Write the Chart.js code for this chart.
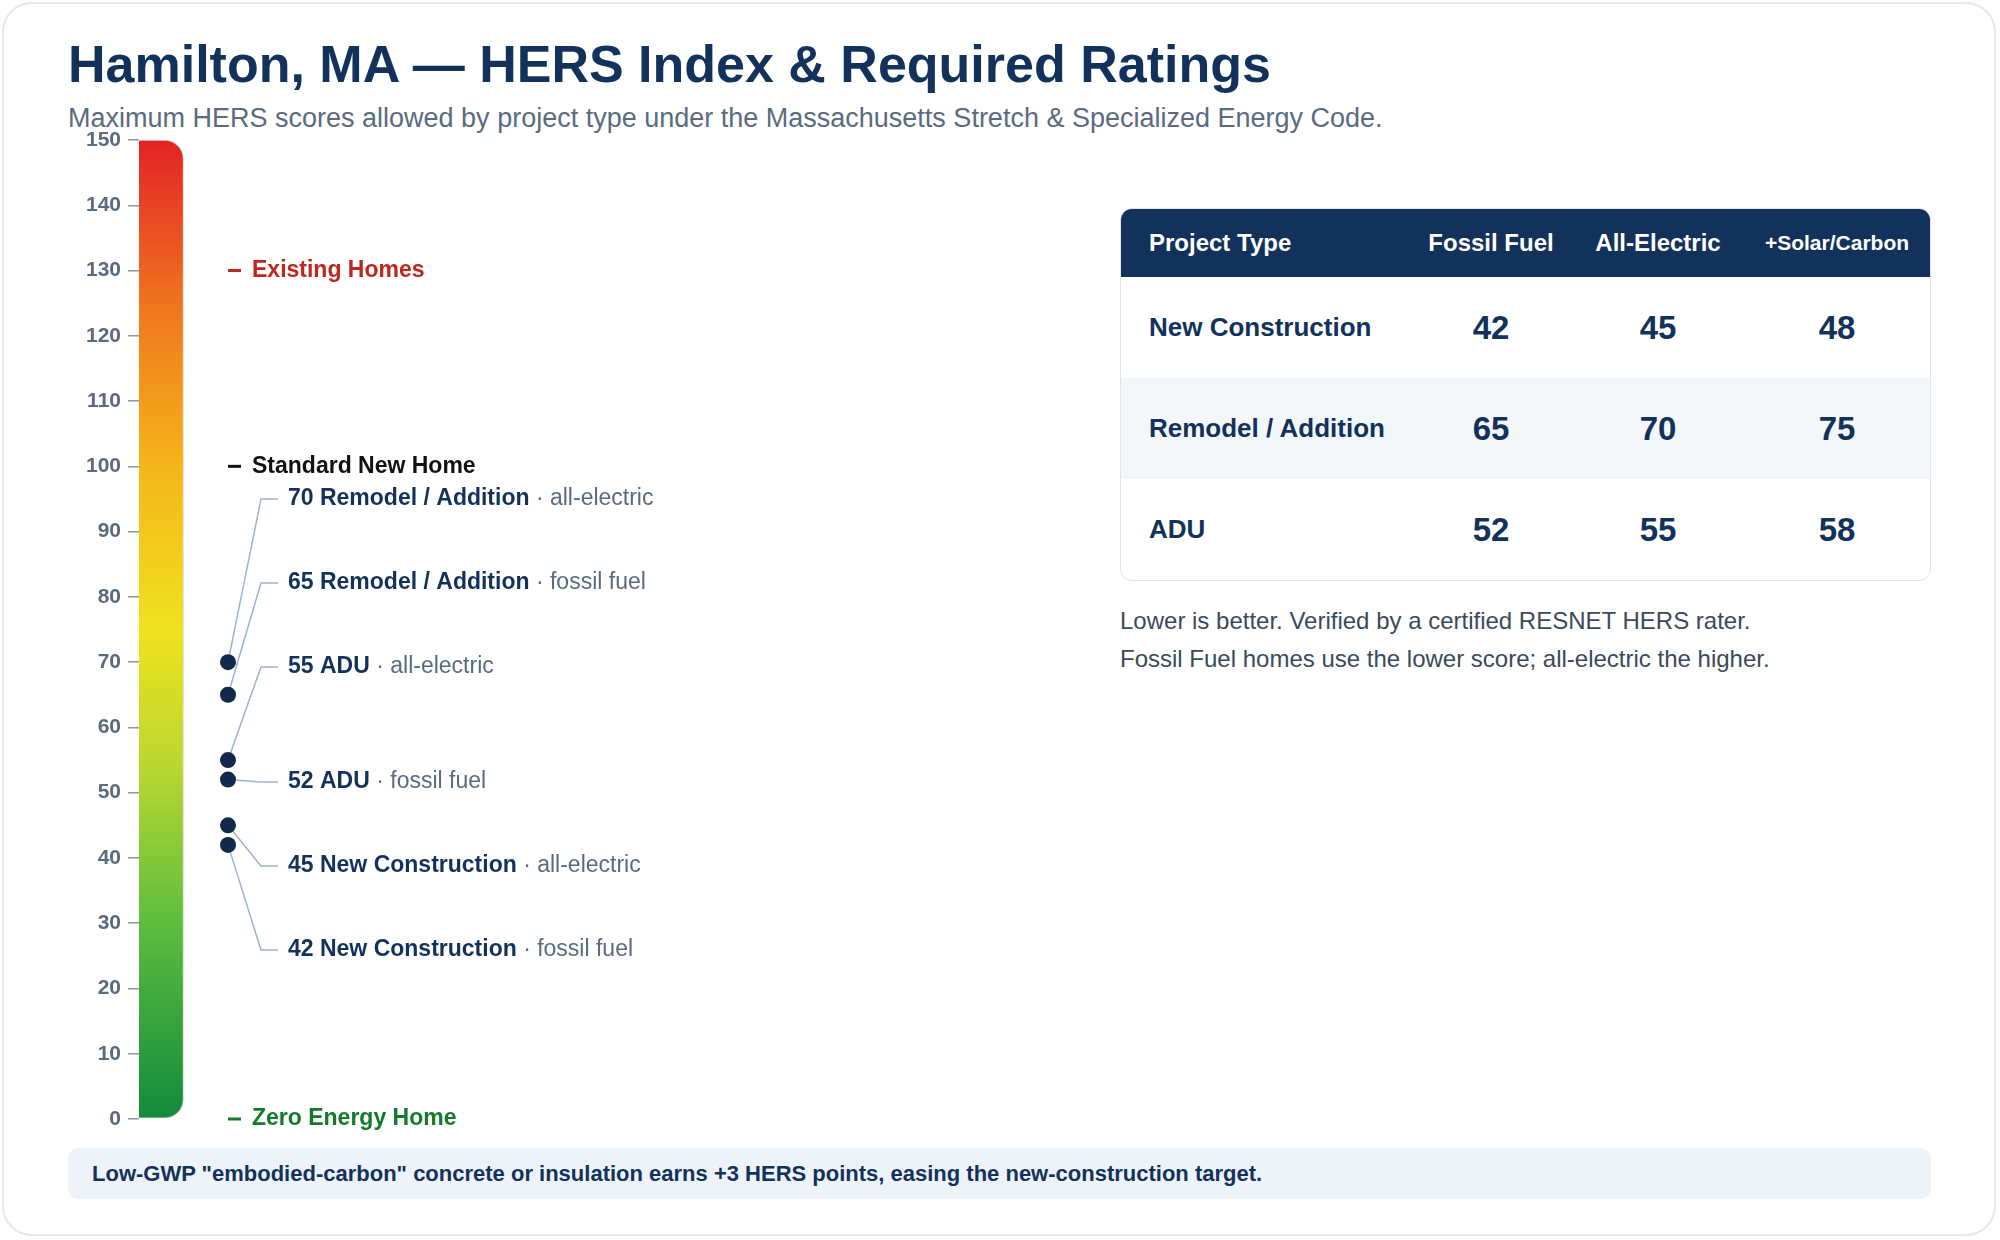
<!DOCTYPE html>
<html>
<head>
<meta charset="utf-8">
<script src="https://cdn.jsdelivr.net/npm/chart.js@4.4.1/dist/chart.umd.min.js"></script>
<style>
  html, body { margin: 0; padding: 0; background: #fff; }
  body { width: 2000px; height: 1240px; position: relative; overflow: hidden; font-family: "Liberation Sans", Arial, sans-serif; }
  .card { position: absolute; left: 2px; top: 2px; width: 1994px; height: 1234px; border: 2px solid #e3e8ef; border-radius: 30px; box-sizing: border-box; }
  h1 { position: absolute; left: 68px; top: 34px; margin: 0; font-size: 52px; font-weight: bold; color: #13325b; }
  .sub { position: absolute; left: 68px; top: 103px; font-size: 27px; color: #5a6b80; }
  #wrap { position: absolute; left: 0; top: 0; width: 1100px; height: 1240px; }
  table { position: absolute; left: 1120px; top: 208px; width: 811px; border-collapse: separate; border-spacing: 0; border: 1.5px solid #dfe5ec; border-radius: 12px; overflow: hidden; font-family: "Liberation Sans", Arial, sans-serif; }
  th { background: #13325b; color: #fff; height: 66px; font-size: 24px; font-weight: bold; text-align: center; }
  th:first-child { text-align: left; padding-left: 28px; }
  th.small { font-size: 21px; }
  td { height: 99px; text-align: center; font-size: 33px; font-weight: bold; color: #13325b; }
  td:first-child { text-align: left; padding-left: 28px; font-size: 26px; }
  tr.alt td { background: #f4f7fa; }
  .notes { position: absolute; left: 1120px; top: 602px; font-size: 24px; line-height: 38px; color: #3a4a5c; }
  .banner { position: absolute; left: 68px; top: 1148px; width: 1863px; height: 51px; background: #eef3fa; border-radius: 10px; font-weight: bold; font-size: 22px; color: #13325b; line-height: 51px; box-sizing: border-box; padding-left: 24px; }
</style>
</head>
<body>
<div class="card"></div>
<h1>Hamilton, MA — HERS Index &amp; Required Ratings</h1>
<div class="sub">Maximum HERS scores allowed by project type under the Massachusetts Stretch &amp; Specialized Energy Code.</div>
<div id="wrap"><canvas id="hers"></canvas></div>
<table id="tbl"></table>
<div class="notes">Lower is better. Verified by a certified RESNET HERS rater.<br>Fossil Fuel homes use the lower score; all-electric the higher.</div>
<div class="banner">Low-GWP "embodied-carbon" concrete or insulation earns +3 HERS points, easing the new-construction target.</div>
<script>
// scale
var scaleMin = 0, scaleMax = 150, scaleStep = 10;

// reference levels on the scale
var refValues = [130, 100, 0];
var refLabels = ["Existing Homes", "Standard New Home", "Zero Energy Home"];
var refColors = ["#c0251f", "#111111", "#137a2a"];

// table
var projectTypes = ["New Construction", "Remodel / Addition", "ADU"];
var columns = ["Project Type", "Fossil Fuel", "All-Electric", "+Solar/Carbon"];
var fossilFuel = [42, 65, 52];
var allElectric = [45, 70, 55];
var solarCarbon = [48, 75, 58];

// markers on the scale
var markValues = [70, 65, 55, 52, 45, 42];
var markNames = ["Remodel / Addition", "Remodel / Addition", "ADU", "ADU", "New Construction", "New Construction"];
var markKinds = ["all-electric", "fossil fuel", "all-electric", "fossil fuel", "all-electric", "fossil fuel"];

// layout: label rows in canvas pixels
var labelRows = [499, 583, 667, 782, 866, 950];

(function buildTable() {
  var t = document.getElementById("tbl");
  var h = "<tr>" + columns.map(function(c, i) { return "<th" + (i == 3 ? " class='small'" : "") + ">" + c + "</th>"; }).join("") + "</tr>";
  projectTypes.forEach(function(p, i) {
    h += "<tr" + (i == 1 ? " class='alt'" : "") + "><td>" + p + "</td><td>" + fossilFuel[i] + "</td><td>" + allElectric[i] + "</td><td>" + solarCarbon[i] + "</td></tr>";
  });
  t.innerHTML = h;
  var ths = t.querySelectorAll("th");
  ths[0].style.width = "260px";
  ths[1].style.width = "160px";
  ths[2].style.width = "170px";
})();

var labelsPlugin = {
  id: "hersLabels",
  beforeDatasetsDraw: function(chart) {
    var ctx = chart.ctx, y = chart.scales.y, x2 = chart.scales.x2;
    var xr = x2.getPixelForValue(1);
    ctx.save();
    ctx.strokeStyle = "#9fb3cc";
    ctx.lineWidth = 1.5;
    markValues.forEach(function(v, i) {
      ctx.beginPath();
      ctx.moveTo(xr, y.getPixelForValue(v));
      ctx.lineTo(xr + 33, labelRows[i]);
      ctx.lineTo(xr + 50, labelRows[i]);
      ctx.stroke();
    });
    ctx.restore();
  },
  afterDatasetsDraw: function(chart) {
    var ctx = chart.ctx, y = chart.scales.y, x2 = chart.scales.x2;
    var xr = x2.getPixelForValue(1);
    ctx.save();
    ctx.textBaseline = "middle";
    refValues.forEach(function(v, i) {
      var py = y.getPixelForValue(v);
      ctx.fillStyle = refColors[i];
      ctx.fillRect(xr, py - 1.5, 13, 3);
      ctx.font = "bold 23px 'Liberation Sans'";
      ctx.fillText(refLabels[i], xr + 24, py);
    });
    markValues.forEach(function(v, i) {
      var px = xr + 60, py = labelRows[i];
      ctx.font = "bold 23px 'Liberation Sans'";
      ctx.fillStyle = "#13325b";
      var main = v + " " + markNames[i];
      ctx.fillText(main, px, py);
      var w = ctx.measureText(main).width;
      ctx.font = "23px 'Liberation Sans'";
      ctx.fillStyle = "#5a6b80";
      ctx.fillText(" · " + markKinds[i], px + w, py);
    });
    ctx.restore();
  }
};

new Chart(document.getElementById("hers"), {
  data: {
    labels: ["HERS"],
    datasets: [{
      type: "bar",
      data: [[scaleMin, scaleMax]],
      barThickness: 88,
      borderRadius: 19,
      borderSkipped: false,
      borderWidth: 1,
      borderColor: "rgba(120,100,40,0.25)",
      backgroundColor: function(c) {
        var a = c.chart.chartArea;
        if (!a) return "#f0e21e";
        var g = c.chart.ctx.createLinearGradient(0, a.bottom, 0, a.top);
        g.addColorStop(0, "#138a3c");
        g.addColorStop(0.2, "#5cbd3e");
        g.addColorStop(0.35, "#b5d631");
        g.addColorStop(0.5, "#f0e21e");
        g.addColorStop(0.67, "#f5b41a");
        g.addColorStop(0.82, "#f07a1e");
        g.addColorStop(1, "#e32227");
        return g;
      },
      order: 2
    }, {
      type: "scatter",
      xAxisID: "x2",
      data: markValues.map(function(v) { return { x: 1, y: v }; }),
      pointRadius: 8,
      pointBackgroundColor: "#13294b",
      pointBorderWidth: 0,
      clip: false,
      order: 1
    }]
  },
  options: {
    responsive: true,
    maintainAspectRatio: false,
    animation: false,
    layout: { padding: { left: 0, right: 872, top: 140, bottom: 121 } },
    plugins: { legend: { display: false }, tooltip: { enabled: false } },
    scales: {
      x: { type: "category", display: false, offset: true },
      x2: { type: "linear", display: false, min: 0, max: 1 },
      y: {
        min: scaleMin, max: scaleMax,
        afterFit: function(s) { s.width = 139; },
        border: { display: false },
        grid: { drawOnChartArea: false, drawTicks: true, tickLength: 11, color: "#8a97a6", lineWidth: 1.5 },
        ticks: { stepSize: scaleStep, padding: 7, color: "#5a6b80", font: { family: "Liberation Sans", size: 21, weight: "bold" } }
      }
    }
  },
  plugins: [labelsPlugin]
});
</script>
</body>
</html>
